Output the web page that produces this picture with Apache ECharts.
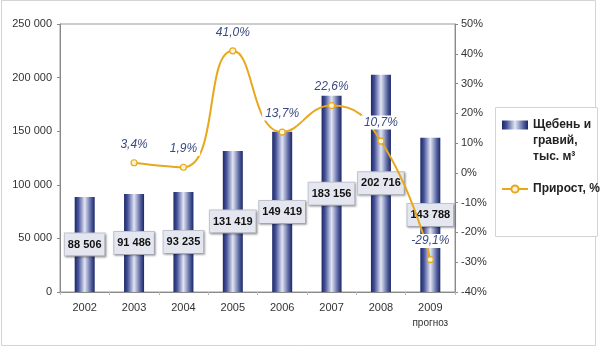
<!DOCTYPE html>
<html><head><meta charset="utf-8">
<script src="https://cdn.jsdelivr.net/npm/echarts@6/dist/echarts.min.js"></script>
<style>html,body{margin:0;padding:0;background:#fff}#c{width:600px;height:348px}</style>
</head><body><div id="c"></div>
<script>
const categories = ['2002','2003','2004','2005','2006','2007','2008','2009'];
const volume = [88506, 91486, 93235, 131419, 149419, 183156, 202716, 143788];
const growth = [null, 3.4, 1.9, 41.0, 13.7, 22.6, 10.7, -29.1];
const leftTicks = [0, 50000, 100000, 150000, 200000, 250000];
const rightTicks = [-40, -30, -20, -10, 0, 10, 20, 30, 40, 50];
const forecastNote = 'прогноз';
const barName = 'Щебень и гравий, тыс. м³';
const barLegendLines = ['Щебень и', 'гравий,', 'тыс. м³'];
const lineName = 'Прирост, %';

const fmtThousands = v => String(v).replace(/\B(?=(\d{3})+(?!\d))/g, ' ');
const chart = echarts.init(document.getElementById('c'));
const barGrad = new echarts.graphic.LinearGradient(0,0,1,0,[
  {offset:0,color:'#1b2766'},{offset:0.18,color:'#46539a'},{offset:0.5,color:'#e2e5f3'},
  {offset:0.82,color:'#55629f'},{offset:1,color:'#1b2766'}]);
chart.setOption({
  animation:false,
  backgroundColor:'#fff',
  textStyle:{fontFamily:'Liberation Sans, Arial, sans-serif'},
  graphic:[
    {type:'rect',z:0,shape:{x:1.5,y:0.5,width:594,height:345},style:{fill:'none',stroke:'#d4d4d4',lineWidth:1},silent:true},
    {type:'rect',z:1,shape:{x:495.5,y:107.5,width:102,height:129},style:{fill:'#fff',stroke:'#d4d4d4',lineWidth:1},silent:true}
  ],
  grid:{left:60,right:145,top:24,bottom:56,show:true,borderColor:'#9a9a9a',borderWidth:1,backgroundColor:'transparent'},
  legend:{
    orient:'vertical', left:501, top:85, z:5,
    padding:0, itemGap:16, itemWidth:26, itemHeight:9,
    textStyle:{fontSize:12,fontWeight:'bold',color:'#222',lineHeight:16},
    formatter: n => n===barName ? '\n\n'+barLegendLines.join('\n') : n,
    data:[{name:barName,icon:'rect'},{name:lineName}]
  },
  xAxis:{
    type:'category', data:categories,
    axisLine:{lineStyle:{color:'#8a8a8a'}},
    axisTick:{show:true,length:3,lineStyle:{color:'#bbb'}},
    axisLabel:{interval:0,fontSize:11,color:'#333',margin:8,lineHeight:16,
      formatter:v => v===categories[categories.length-1] ? v+'\n{s|'+forecastNote+'}' : v,
      rich:{s:{fontSize:10,color:'#333',lineHeight:14}}}
  },
  yAxis:[
    {type:'value',min:leftTicks[0],max:leftTicks[leftTicks.length-1],interval:leftTicks[1]-leftTicks[0],
     splitLine:{show:false},
     axisLine:{show:true,lineStyle:{color:'#8a8a8a'}},
     axisTick:{show:true,length:3,lineStyle:{color:'#8a8a8a'}},
     axisLabel:{fontSize:11,color:'#333',margin:8,formatter:v=>fmtThousands(v)}},
    {type:'value',min:rightTicks[0],max:rightTicks[rightTicks.length-1],interval:rightTicks[1]-rightTicks[0],
     splitLine:{show:false},
     axisLine:{show:true,lineStyle:{color:'#8a8a8a'}},
     axisTick:{show:true,length:3,lineStyle:{color:'#8a8a8a'}},
     axisLabel:{fontSize:11,color:'#333',margin:6,formatter:v=>v+'%'}}
  ],
  series:[
    {name:barName,type:'bar',data:volume,barWidth:20,yAxisIndex:0,
     itemStyle:{color:barGrad},
     label:{show:true,position:'inside',fontSize:11,fontWeight:'bold',color:'#111',
       backgroundColor:'#e5e7f0',borderColor:'#c4c7d3',borderWidth:1,padding:[6,3,5,3],
       shadowColor:'rgba(0,0,0,0.25)',shadowBlur:2,shadowOffsetX:1,shadowOffsetY:1,
       formatter:p=>fmtThousands(p.value)}},
    {name:lineName,type:'line',data:growth,yAxisIndex:1,smooth:0.5,
     symbol:'circle',symbolSize:6,showSymbol:true,
     lineStyle:{color:'#e8a71c',width:2},
     itemStyle:{color:'#fdf3d2',borderColor:'#e8a71c',borderWidth:1.2},
     label:{show:true,position:'top',distance:8,fontSize:12,fontStyle:'italic',color:'#3a4a80',
       backgroundColor:'#fff',padding:[1,3],
       formatter:p=>p.value.toFixed(1).replace('.',',')+'%'}}
  ]
});
</script></body></html>
